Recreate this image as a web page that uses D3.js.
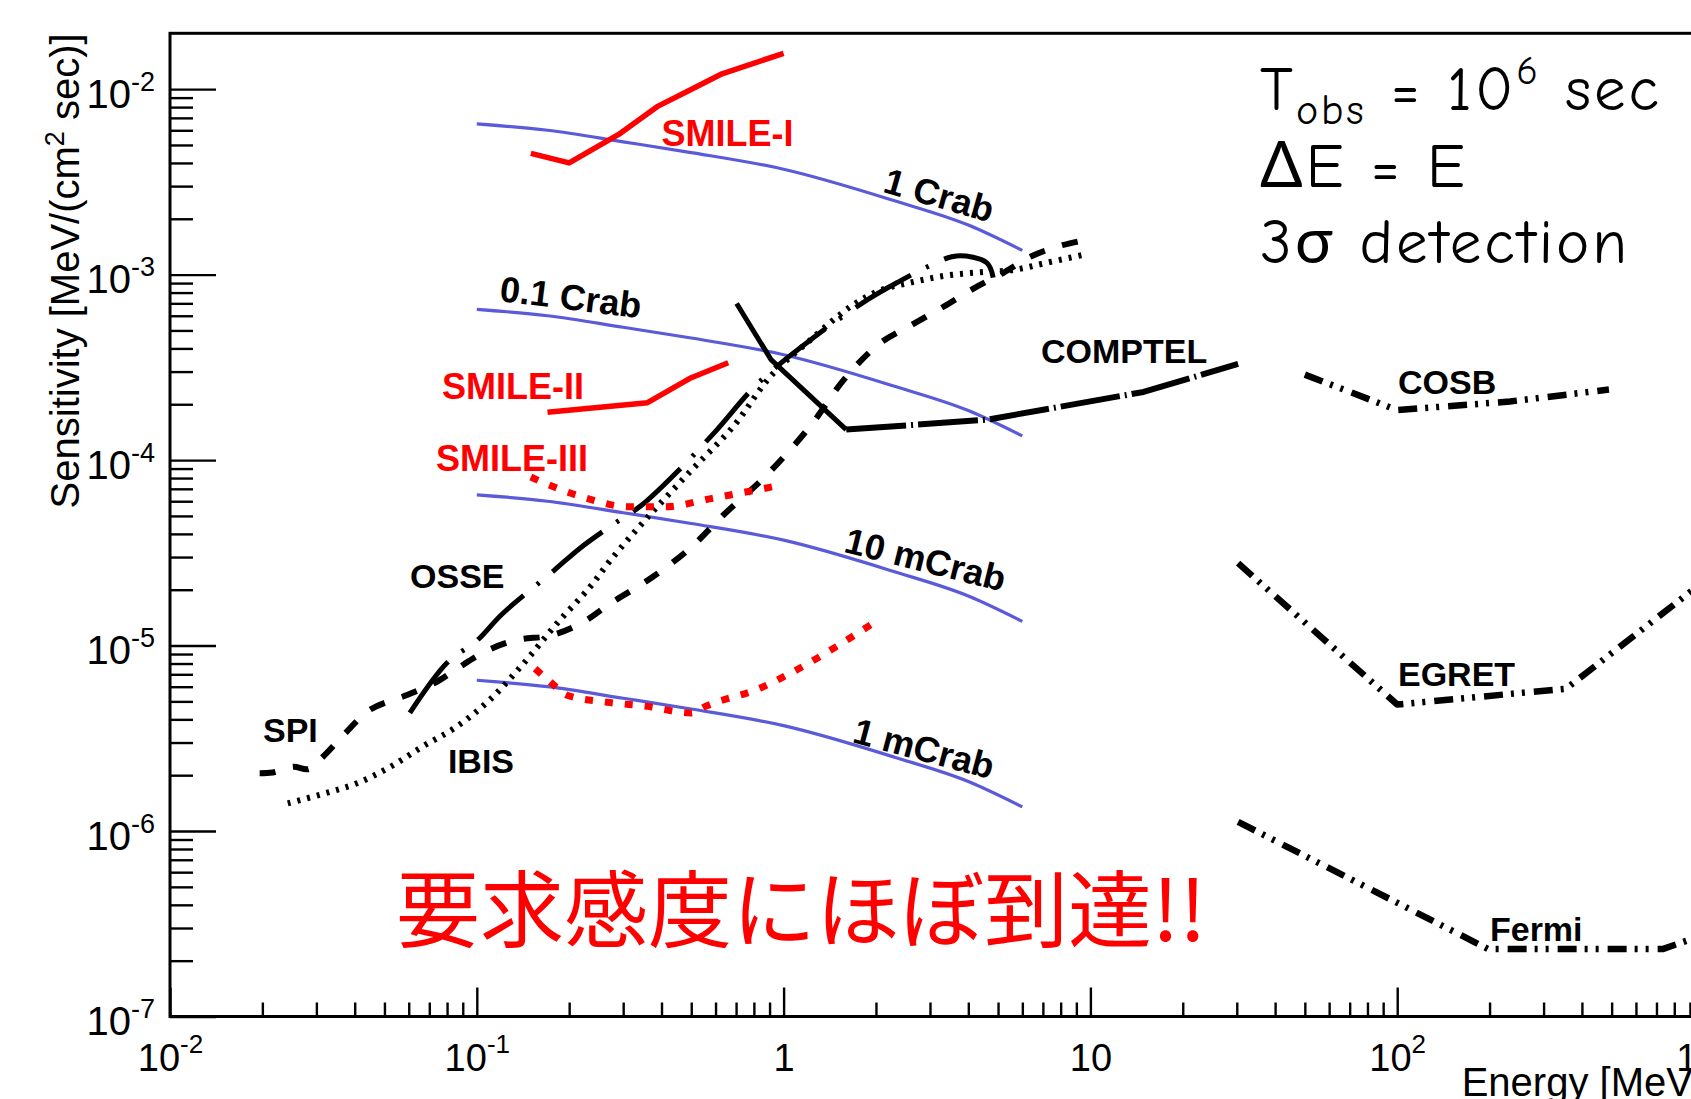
<!DOCTYPE html>
<html>
<head>
<meta charset="utf-8">
<title>Sensitivity of MeV gamma-ray telescopes</title>
<script src="https://cdn.jsdelivr.net/npm/d3@7/dist/d3.min.js"></script>
<style>
  html, body { margin: 0; padding: 0; background: #fff; }
  svg { display: block; }
</style>
</head>
<body>
<svg id="chart" width="1691" height="1099"></svg>
<script>
// ---------- Reference spectra: fractions of the Crab flux, MeV/(cm^2 s) ----------
const crabEnergy = [0.1, 0.17, 0.3, 0.5, 1, 2.3, 4, 6];
const crab1      = [6.5e-3, 6.0e-3, 5.2e-3, 4.55e-3, 3.7e-3, 2.5e-3, 1.85e-3, 1.35e-3];
const crab01     = [6.5e-4, 6.0e-4, 5.2e-4, 4.55e-4, 3.7e-4, 2.5e-4, 1.85e-4, 1.35e-4];
const crab10m    = [6.5e-5, 6.0e-5, 5.2e-5, 4.55e-5, 3.7e-5, 2.5e-5, 1.85e-5, 1.35e-5];
const crab1m     = [6.5e-6, 6.0e-6, 5.2e-6, 4.55e-6, 3.7e-6, 2.5e-6, 1.85e-6, 1.35e-6];

// ---------- SMILE balloon experiments ----------
const smile1E = [0.15, 0.20, 0.29, 0.39, 0.52, 0.63, 1.0];
const smile1S = [4.5e-3, 4.0e-3, 5.7e-3, 8.1e-3, 1.03e-2, 1.21e-2, 1.56e-2];
const smile2E = [0.17, 0.36, 0.50, 0.66];
const smile2S = [1.81e-4, 2.04e-4, 2.78e-4, 3.35e-4];
const smile3aE = [0.15, 0.17, 0.23, 0.31, 0.41, 0.58, 0.93];
const smile3aS = [8.1e-5, 7.4e-5, 6.2e-5, 5.6e-5, 5.6e-5, 6.2e-5, 7.2e-5];
const smile3bE = [0.155, 0.173, 0.197, 0.266, 0.359, 0.50, 0.556, 0.84, 1.12, 1.49, 1.93];
const smile3bS = [7.5e-6, 6.4e-6, 5.4e-6, 4.95e-6, 4.7e-6, 4.33e-6, 4.7e-6, 5.9e-6, 7.5e-6, 9.9e-6, 1.3e-5];

// ---------- Satellite instruments ----------
const spiE = [0.0196, 0.0216, 0.0252, 0.0283, 0.0314, 0.0372, 0.0449, 0.0595, 0.0741, 0.0871,
              0.108, 0.136, 0.173, 0.221, 0.273, 0.374, 0.496, 0.633, 0.889, 1.22,
              1.58, 2.06, 2.65, 3.32, 4.17, 5.19, 6.45, 8.10, 10.1];
const spiS = [2.05e-6, 2.07e-6, 2.22e-6, 2.16e-6, 2.50e-6, 3.36e-6, 4.51e-6, 5.43e-6, 6.38e-6, 7.59e-6,
              9.40e-6, 1.075e-5, 1.13e-5, 1.33e-5, 1.69e-5, 2.34e-5, 3.35e-5, 5.01e-5, 8.44e-5, 1.52e-4,
              2.74e-4, 4.26e-4, 5.42e-4, 6.71e-4, 8.43e-4, 1.02e-3, 1.26e-3, 1.44e-3, 1.56e-3];
const ibisE = [0.0242, 0.0317, 0.0407, 0.0523, 0.0667, 0.0857, 0.110, 0.142, 0.182, 0.234,
               0.273, 0.359, 0.496, 0.686, 0.91, 1.22, 1.67, 2.06, 2.65, 3.40,
               4.38, 5.62, 7.23, 9.75];
const ibisS = [1.41e-6, 1.59e-6, 1.81e-6, 2.22e-6, 2.86e-6, 3.64e-6, 5.08e-6, 8.0e-6, 1.31e-5, 2.07e-5,
               2.89e-5, 4.88e-5, 8.67e-5, 1.52e-4, 2.85e-4, 4.43e-4, 6.80e-4, 8.20e-4, 9.13e-4, 9.89e-4,
               1.03e-3, 1.06e-3, 1.16e-3, 1.29e-3];
const osseE = [0.0605, 0.0803, 0.0999, 0.121, 0.178, 0.217, 0.275, 0.345, 0.458, 0.598,
               0.826, 1.22, 1.89, 2.40, 2.99, 3.66, 4.59, 4.82];
const osseS = [4.33e-6, 8.12e-6, 1.06e-5, 1.48e-5, 2.53e-5, 3.35e-5, 4.44e-5, 5.72e-5, 8.90e-5, 1.42e-4,
               2.60e-4, 4.43e-4, 7.37e-4, 9.25e-4, 1.115e-3, 1.26e-3, 1.16e-3, 9.63e-4];
const comptelLowE  = [0.703, 0.91, 1.60];
const comptelLowS  = [6.98e-4, 3.48e-4, 1.46e-4];
const comptelHighE = [1.60, 4.59, 14.9, 30.3];
const comptelHighS = [1.46e-4, 1.65e-4, 2.33e-4, 3.30e-4];
const cosbE  = [50, 100, 233, 490];
const cosbS  = [2.89e-4, 1.86e-4, 2.07e-4, 2.40e-4];
const egretE = [30.3, 100, 355, 907, 1000];
const egretS = [2.78e-5, 4.81e-6, 5.85e-6, 1.96e-5, 2.2e-5];
const fermiE = [30.3, 198, 733, 967, 1000];
const fermiS = [1.12e-6, 2.31e-7, 2.31e-7, 2.71e-7, 2.8e-7];

// ---------- Axis ticks ----------
const xMajorTicks = [0.01, 0.1, 1, 10, 100, 1000];
const xTickLabels = [["10", "-2"], ["10", "-1"], ["1", ""], ["10", ""], ["10", "2"], ["10", "3"]];
const yMajorTicks = [1e-7, 1e-6, 1e-5, 1e-4, 1e-3, 1e-2];
const yTickLabels = [["10", "-7"], ["10", "-6"], ["10", "-5"], ["10", "-4"], ["10", "-3"], ["10", "-2"]];

// ---------- Layout ----------
const W = 1691, H = 1099;
const plot = { left: 170, right: 1704, top: 33.3, bottom: 1016.5 };
const FONT = '"Liberation Sans", Arial, Helvetica, sans-serif';
const BLUE = "#5b5bd9", RED = "#ff0000";

const svg = d3.select("#chart");
svg.append("rect").attr("width", W).attr("height", H).attr("fill", "#fff");

const x = d3.scaleLog().domain([0.01, 1000]).range([plot.left, plot.right]);
const y = d3.scaleLog().domain([1e-7, 0.02]).range([plot.bottom, plot.top]);

svg.append("clipPath").attr("id", "plotClip")
  .append("rect")
  .attr("x", plot.left).attr("y", plot.top)
  .attr("width", plot.right - plot.left).attr("height", plot.bottom - plot.top);

// ---------- Axes (ticks point inward, ROOT style) ----------
const minorOf = (scale, majors) => scale.ticks().filter(v => !majors.some(m => Math.abs(v / m - 1) < 1e-9));

function styleAxis(g) {
  g.select(".domain").remove();
  g.selectAll(".tick line").attr("stroke", "#000").attr("stroke-width", 2.4);
  g.selectAll(".tick text").remove();
}

const gxMinor = svg.append("g").attr("transform", `translate(0,${plot.bottom})`)
  .call(d3.axisBottom(x).tickValues(minorOf(x, xMajorTicks)).tickSizeInner(-14).tickSizeOuter(0));
styleAxis(gxMinor);
const gxMajor = svg.append("g").attr("transform", `translate(0,${plot.bottom})`)
  .call(d3.axisBottom(x).tickValues(xMajorTicks).tickSizeInner(-29).tickSizeOuter(0));
styleAxis(gxMajor);

gxMajor.selectAll(".tick").each(function (d, i) {
  const [base, exp] = xTickLabels[i];
  const t = d3.select(this).append("text")
    .attr("x", 0).attr("y", 54)
    .attr("text-anchor", "middle")
    .attr("font-family", FONT).attr("font-size", 38).attr("fill", "#000")
    .text(base);
  if (exp) t.append("tspan").attr("dy", -18).attr("font-size", 26).text(exp);
});

const yMinorVals = minorOf(y, yMajorTicks).filter(v => v < 1e-2 * 1.0001);
const gyMinor = svg.append("g").attr("transform", `translate(${plot.left},0)`)
  .call(d3.axisLeft(y).tickValues(yMinorVals).tickSizeInner(-23).tickSizeOuter(0));
styleAxis(gyMinor);
const gyMajor = svg.append("g").attr("transform", `translate(${plot.left},0)`)
  .call(d3.axisLeft(y).tickValues(yMajorTicks).tickSizeInner(-46).tickSizeOuter(0));
styleAxis(gyMajor);

gyMajor.selectAll(".tick").each(function (d, i) {
  const [base, exp] = yTickLabels[i];
  const t = d3.select(this).append("text")
    .attr("x", -15).attr("y", 18)
    .attr("text-anchor", "end")
    .attr("font-family", FONT).attr("font-size", 40).attr("fill", "#000")
    .text(base);
  t.append("tspan").attr("dy", -17).attr("font-size", 27).text(exp);
});

// frame
svg.append("rect")
  .attr("x", plot.left).attr("y", plot.top)
  .attr("width", plot.right - plot.left).attr("height", plot.bottom - plot.top)
  .attr("fill", "none").attr("stroke", "#000").attr("stroke-width", 3);

// axis titles
const yTitle = svg.append("text")
  .attr("transform", `translate(79,${plot.top}) rotate(-90)`)
  .attr("text-anchor", "end")
  .attr("font-family", FONT).attr("font-size", 40).attr("fill", "#000")
  .text("Sensitivity [MeV/(cm");
yTitle.append("tspan").attr("dy", -15).attr("font-size", 27).text("2");
yTitle.append("tspan").attr("dy", 15).text(" sec)]");

svg.append("text")
  .attr("x", plot.right).attr("y", 1096)
  .attr("text-anchor", "end")
  .attr("font-family", FONT).attr("font-size", 40).attr("fill", "#000")
  .text("Energy [MeV]");

// ---------- Curves ----------
const pts = (E, S) => E.map((e, i) => [e, S[i]]);
const line = curve => d3.line().x(d => x(d[0])).y(d => y(d[1])).curve(curve);

const series = [
  { data: pts(crabEnergy, crab1),   color: BLUE, width: 3.2, dash: null, curve: d3.curveMonotoneX },
  { data: pts(crabEnergy, crab01),  color: BLUE, width: 3.2, dash: null, curve: d3.curveMonotoneX },
  { data: pts(crabEnergy, crab10m), color: BLUE, width: 3.2, dash: null, curve: d3.curveMonotoneX },
  { data: pts(crabEnergy, crab1m),  color: BLUE, width: 3.2, dash: null, curve: d3.curveMonotoneX },

  { data: pts(spiE, spiS),   color: "#000", width: 6,   dash: "16,18", curve: d3.curveCatmullRom },
  { data: pts(ibisE, ibisS), color: "#000", width: 6,   dash: "3,7",   curve: d3.curveCatmullRom },
  { data: pts(osseE, osseS), color: "#000", width: 5,   dash: "64,17,3,17", curve: d3.curveCatmullRom },
  { data: pts(comptelLowE, comptelLowS),   color: "#000", width: 5, dash: null, curve: d3.curveLinear },
  { data: pts(comptelHighE, comptelHighS), color: "#000", width: 6, dash: "60,5,2,5", curve: d3.curveLinear },
  { data: pts(cosbE, cosbS),   color: "#000", width: 6.5, dash: "19,8,3,8,3,9", curve: d3.curveLinear },
  { data: pts(egretE, egretS), color: "#000", width: 6.5, dash: "19,8,3,8,3,9", curve: d3.curveLinear },
  { data: pts(fermiE, fermiS), color: "#000", width: 6.5, dash: "19,8,3,8,3,9", curve: d3.curveLinear },

  { data: pts(smile1E, smile1S),   color: RED, width: 5.5, dash: null,  curve: d3.curveLinear },
  { data: pts(smile2E, smile2S),   color: RED, width: 5.5, dash: null,  curve: d3.curveLinear },
  { data: pts(smile3aE, smile3aS), color: RED, width: 7,   dash: "8,12", curve: d3.curveMonotoneX },
  { data: pts(smile3bE, smile3bS), color: RED, width: 7,   dash: "8,12", curve: d3.curveMonotoneX }
];

const gCurves = svg.append("g").attr("clip-path", "url(#plotClip)");
gCurves.selectAll("path.curve").data(series).join("path")
  .attr("class", "curve")
  .attr("d", s => line(s.curve)(s.data))
  .attr("fill", "none")
  .attr("stroke", s => s.color)
  .attr("stroke-width", s => s.width)
  .attr("stroke-dasharray", s => s.dash)
  .attr("stroke-linejoin", "round");

// ---------- Curve labels ----------
const instrumentLabels = [
  { text: "SMILE-I",   E: 0.40,  S: 4.96e-3, color: RED,    size: 36 },
  { text: "SMILE-II",  E: 0.077, S: 2.14e-4, color: RED,    size: 36 },
  { text: "SMILE-III", E: 0.0736, S: 8.73e-5, color: RED,   size: 36 },
  { text: "OSSE",      E: 0.0606, S: 2.04e-5, color: "#000", size: 34 },
  { text: "SPI",       E: 0.0201, S: 3.02e-6, color: "#000", size: 34 },
  { text: "IBIS",      E: 0.0805, S: 2.06e-6, color: "#000", size: 34 },
  { text: "COMPTEL",   E: 6.90,  S: 3.34e-4, color: "#000",  size: 34 },
  { text: "COSB",      E: 100.6, S: 2.27e-4, color: "#000",  size: 34 },
  { text: "EGRET",     E: 100.6, S: 6.05e-6, color: "#000",  size: 34 },
  { text: "Fermi",     E: 200.6, S: 2.55e-7, color: "#000",  size: 34 }
];
svg.append("g").selectAll("text").data(instrumentLabels).join("text")
  .attr("x", d => x(d.E)).attr("y", d => y(d.S))
  .attr("font-family", FONT).attr("font-weight", "bold").attr("font-size", d => d.size)
  .attr("fill", d => d.color)
  .text(d => d.text);

const crabLabels = [
  { text: "1 Crab",   E: 2.09,  S: 2.80e-3, angle: 16 },
  { text: "0.1 Crab", E: 0.118, S: 7.21e-4, angle: 7 },
  { text: "10 mCrab", E: 1.56,  S: 3.20e-5, angle: 14 },
  { text: "1 mCrab",  E: 1.66,  S: 3.02e-6, angle: 15 }
];
svg.append("g").selectAll("text").data(crabLabels).join("text")
  .attr("transform", d => `translate(${x(d.E)},${y(d.S)}) rotate(${d.angle})`)
  .attr("font-family", FONT).attr("font-weight", "bold").attr("font-size", 36)
  .attr("fill", "#000")
  .text(d => d.text);

// ---------- Observation conditions ----------
const NOTE_FONT = '"Comic Sans MS", "Comic Neue", Lato, "Open Sans", sans-serif';
const note = svg.append("g").attr("font-family", NOTE_FONT).attr("fill", "#000")
  .attr("font-size", 63).attr("letter-spacing", 3);
const l1 = note.append("text").attr("x", 1260).attr("y", 110).text("T");
l1.append("tspan").attr("font-size", 42).attr("dy", 14).text("obs");
l1.append("tspan").attr("dy", -14).text(" = 10");
l1.append("tspan").attr("font-size", 40).attr("dy", -26).text("6");
l1.append("tspan").attr("dy", 26).text(" sec");
note.append("text").attr("x", 1260).attr("y", 187).text("\u0394E = E");
note.append("text").attr("x", 1260).attr("y", 263).text("3\u03c3 detection");

// ---------- Message ----------
svg.append("text")
  .attr("x", 396).attr("y", 941)
  .attr("font-family", '"Noto Sans CJK JP", "Noto Sans CJK SC", sans-serif')
  .attr("font-size", 84).attr("fill", RED)
  .text("要求感度にほぼ到達!!");
</script>
</body>
</html>
